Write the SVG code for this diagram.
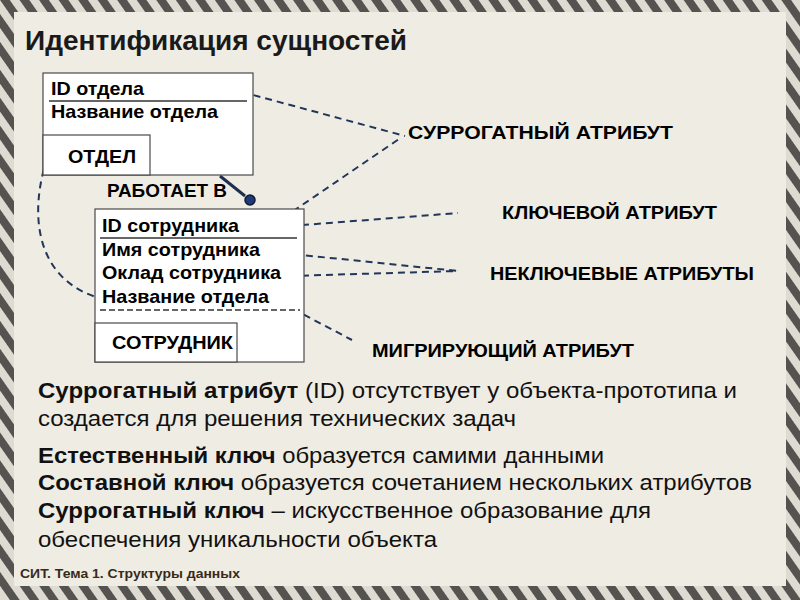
<svg xmlns="http://www.w3.org/2000/svg" width="800" height="600" viewBox="0 0 800 600">
<defs>
<pattern id="stripes" patternUnits="userSpaceOnUse" width="16" height="16" patternTransform="rotate(-35)">
<rect width="16" height="16" fill="#dedbd2"/>
<rect width="8" height="16" fill="#555350"/>
</pattern>
<style>
.box{fill:#ffffff;stroke:#4a4a4a;stroke-width:1.2}
.attr{font-family:"Liberation Sans",Arial,sans-serif;font-weight:bold;font-size:18.5px;fill:#000}
.lbl{font-family:"Liberation Sans",Arial,sans-serif;font-weight:bold;font-size:17.5px;fill:#000}
.dash{fill:none;stroke:#22365a;stroke-width:2;stroke-dasharray:7,5}
.body{font-family:"Liberation Sans",Arial,sans-serif;font-size:21.5px;fill:#111}
.b{font-weight:bold}
</style>
</defs>
<rect x="0" y="0" width="800" height="600" fill="url(#stripes)"/>
<rect x="14" y="12" width="772" height="574" fill="#efece3"/>

<text x="25" y="50" font-family="Liberation Sans,Arial,sans-serif" font-weight="bold" font-size="28" fill="#1a1a1a" textLength="382" lengthAdjust="spacingAndGlyphs">Идентификация сущностей</text>

<g id="connectors">
<path class="dash" d="M242,92 L405,136"/>
<path class="dash" d="M283,218 L402,137"/>
<path class="dash" d="M290,226 L458,213"/>
<path class="dash" d="M282,253 L458,271"/>
<path class="dash" d="M290,276 L458,271"/>
<path class="dash" d="M272,298 L352,340"/>
<path class="dash" d="M61,125 C25,195 28,275 96,297"/>
<path d="M220,176 L245,196" fill="none" stroke="#1e2f50" stroke-width="3"/>
<circle cx="250" cy="200" r="5" fill="#1e3a7a" stroke="#0e1a30" stroke-width="1.5"/>
</g>

<g id="otdel">
<rect class="box" x="43" y="73" width="210" height="102"/>
<text class="attr" x="51" y="95" textLength="93" lengthAdjust="spacingAndGlyphs">ID отдела</text>
<line x1="49" y1="101" x2="247" y2="101" stroke="#333" stroke-width="1.5"/>
<text class="attr" x="51" y="118" textLength="167" lengthAdjust="spacingAndGlyphs">Название отдела</text>
<rect class="box" x="43" y="135" width="107" height="40"/>
<text class="attr" x="68" y="163" textLength="68" lengthAdjust="spacingAndGlyphs">ОТДЕЛ</text>
</g>

<g id="rel">
<text class="lbl" x="107" y="197" textLength="120" lengthAdjust="spacingAndGlyphs">РАБОТАЕТ  В</text>
</g>

<g id="sotrudnik">
<rect class="box" x="95" y="209" width="209" height="153"/>
<text class="attr" x="102" y="232" textLength="137" lengthAdjust="spacingAndGlyphs">ID сотрудника</text>
<line x1="100" y1="238" x2="297" y2="238" stroke="#333" stroke-width="1.5"/>
<text class="attr" x="102" y="256" textLength="158" lengthAdjust="spacingAndGlyphs">Имя сотрудника</text>
<text class="attr" x="102" y="279" textLength="179" lengthAdjust="spacingAndGlyphs">Оклад сотрудника</text>
<text class="attr" x="102" y="303" textLength="167" lengthAdjust="spacingAndGlyphs">Название отдела</text>
<line x1="100" y1="310" x2="300" y2="310" stroke="#333" stroke-width="1.5" stroke-dasharray="6,3"/>
<rect class="box" x="95" y="323" width="142" height="39"/>
<text class="attr" x="112" y="349" textLength="121" lengthAdjust="spacingAndGlyphs">СОТРУДНИК</text>
</g>

<g id="labels">
<text class="lbl" x="408" y="139" textLength="265" lengthAdjust="spacingAndGlyphs">СУРРОГАТНЫЙ АТРИБУТ</text>
<text class="lbl" x="502" y="219" textLength="215" lengthAdjust="spacingAndGlyphs">КЛЮЧЕВОЙ АТРИБУТ</text>
<text class="lbl" x="490" y="280" textLength="264" lengthAdjust="spacingAndGlyphs">НЕКЛЮЧЕВЫЕ АТРИБУТЫ</text>
<text class="lbl" x="372" y="357" textLength="262" lengthAdjust="spacingAndGlyphs">МИГРИРУЮЩИЙ АТРИБУТ</text>
</g>

<g id="bodytext">
<text class="body" x="38" y="398" textLength="699" lengthAdjust="spacingAndGlyphs"><tspan class="b">Суррогатный атрибут</tspan> (ID) отсутствует у объекта-прототипа и</text>
<text class="body" x="38" y="426" textLength="478" lengthAdjust="spacingAndGlyphs">создается для решения технических задач</text>
<text class="body" x="38" y="463" textLength="566" lengthAdjust="spacingAndGlyphs"><tspan class="b">Естественный ключ</tspan> образуется самими данными</text>
<text class="body" x="38" y="490" textLength="714" lengthAdjust="spacingAndGlyphs"><tspan class="b">Составной ключ</tspan> образуется сочетанием нескольких атрибутов</text>
<text class="body" x="38" y="518" textLength="613" lengthAdjust="spacingAndGlyphs"><tspan class="b">Суррогатный ключ</tspan> – искусственное образование для</text>
<text class="body" x="38" y="547" textLength="399" lengthAdjust="spacingAndGlyphs">обеспечения уникальности объекта</text>
</g>

<text x="20" y="578" font-family="Liberation Sans,Arial,sans-serif" font-weight="bold" font-size="13" fill="#3a2a18" textLength="220" lengthAdjust="spacingAndGlyphs">СИТ. Тема 1. Структуры данных</text>
</svg>
